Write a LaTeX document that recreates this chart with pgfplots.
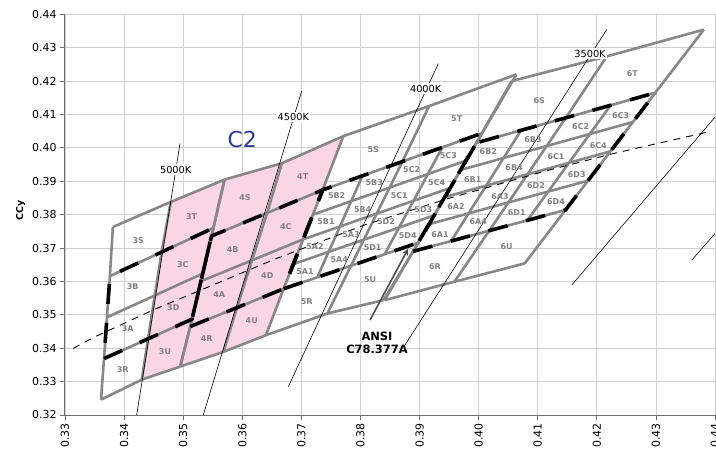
\documentclass[border=0pt]{standalone}
\usepackage{fontspec}
\setmainfont{DejaVu Sans}
\usepackage{pgfplots}
\pgfplotsset{compat=1.18}
\usetikzlibrary{arrows.meta}

\definecolor{bingray}{RGB}{135,135,135}
\definecolor{labgray}{RGB}{128,128,128}
\definecolor{gridc}{RGB}{208,208,208}
\definecolor{axcol}{RGB}{110,110,110}
\definecolor{pinkc}{RGB}{249,213,229}
\definecolor{c2blue}{RGB}{42,58,152}

\pgfplotsset{
  bin/.style={color=bingray, line width=2.6bp, line join=round, mark=none},
  ansi/.style={color=black, line width=3.6bp, dash pattern=on 20bp off 19bp, mark=none},
  iso/.style={color=black, line width=0.6bp, mark=none},
}
\tikzset{
  binlab/.style={font=\bfseries\fontsize{8}{9}\selectfont, text=labgray, inner sep=0pt},
  cct/.style={font=\fontsize{9.8}{10}\selectfont, fill=white, inner sep=1.5bp},
}

\begin{document}
\begin{tikzpicture}
\begin{axis}[name=ax,
  scale only axis, width=650bp, height=400.7bp,
  xmin=0.33, xmax=0.44, ymin=0.32, ymax=0.44,
  xtick={0.33,0.34,0.35,0.36,0.37,0.38,0.39,0.40,0.41,0.42,0.43,0.44},
  ytick={0.32,0.33,0.34,0.35,0.36,0.37,0.38,0.39,0.40,0.41,0.42,0.43,0.44},
  grid=major, grid style={gridc, line width=0.8bp},
  axis lines=left, axis line style={-, axcol, line width=1bp},
  tick align=outside, major tick length=5bp, tick style={axcol, line width=0.8bp},
  /pgf/number format/assume math mode=true,
  /pgf/number format/fixed, /pgf/number format/fixed zerofill,
  /pgf/number format/precision=2,
  tick label style={font=\fontsize{11}{13}\selectfont},
  xticklabel style={rotate=90, anchor=east},
  ylabel={\textbf{CCy}}, ylabel style={font=\fontsize{9.5}{10}\selectfont, xshift=4bp},
]

% pink area: 3T 3C 3D 3U and the 4500K column
\addplot[fill=pinkc, draw=none] coordinates {
  (0.3479,0.3838) (0.3570,0.3905) (0.3667,0.3954) (0.3771,0.4035)
  (0.3736,0.3874) (0.3670,0.3578) (0.3640,0.3439)
  (0.3568,0.3389) (0.3495,0.3345) (0.3430,0.3306)
  (0.34405,0.3428) (0.34635,0.3688)};

% 5000K column
\addplot[bin] coordinates {(0.3361,0.3246) (0.3366,0.3369) (0.3376,0.3616) (0.3381,0.3763)};
\addplot[bin] coordinates {(0.3430,0.3306) (0.34405,0.3428) (0.34635,0.3688) (0.3479,0.3838)};
\addplot[bin] coordinates {(0.3495,0.3345) (0.3515,0.3487) (0.3551,0.3760) (0.3570,0.3905)};
\addplot[bin] coordinates {(0.3361,0.3246) (0.3430,0.3306) (0.3495,0.3345)};
\addplot[bin] coordinates {(0.3366,0.3369) (0.34405,0.3428) (0.3515,0.3487)};
\addplot[bin] coordinates {(0.3371,0.34925) (0.3452,0.3558) (0.3533,0.36235)};
\addplot[bin] coordinates {(0.3376,0.3616) (0.34635,0.3688) (0.3551,0.3760)};
\addplot[bin] coordinates {(0.3381,0.3763) (0.3479,0.3838) (0.3570,0.3905)};

% 4500K column
\addplot[bin] coordinates {(0.3495,0.3345) (0.3512,0.3465) (0.3548,0.3736) (0.3570,0.3905)};
\addplot[bin] coordinates {(0.3568,0.3389) (0.3591,0.35215) (0.3642,0.3805) (0.3667,0.3954)};
\addplot[bin] coordinates {(0.3640,0.3439) (0.3670,0.3578) (0.3736,0.3874) (0.3771,0.4035)};
\addplot[bin] coordinates {(0.3495,0.3345) (0.3568,0.3389) (0.3640,0.3439)};
\addplot[bin] coordinates {(0.3512,0.3465) (0.3591,0.35215) (0.3670,0.3578)};
\addplot[bin] coordinates {(0.3530,0.36005) (0.36165,0.36633) (0.3703,0.3726)};
\addplot[bin] coordinates {(0.3548,0.3736) (0.3642,0.3805) (0.3736,0.3874)};
\addplot[bin] coordinates {(0.3570,0.3905) (0.3667,0.3954) (0.3771,0.4035)};

% 4000K column
\addplot[bin] coordinates {(0.3727,0.36125) (0.37461,0.36885) (0.37653,0.37645) (0.37844,0.38405) (0.38035,0.39165)};
\addplot[bin] coordinates {(0.3744,0.3504) (0.3784,0.3647) (0.38058,0.3725) (0.38275,0.3803) (0.38493,0.3881) (0.3871,0.3959) (0.3916,0.4125)};
\addplot[bin] coordinates {(0.3841,0.36815) (0.38654,0.37615) (0.38898,0.38415) (0.39141,0.39215) (0.39385,0.40015)};
\addplot[bin] coordinates {(0.3839,0.3544) (0.3898,0.3716) (0.3925,0.3798) (0.3952,0.3880) (0.3979,0.3962) (0.4006,0.4044) (0.4064,0.4220)};
\addplot[bin] coordinates {(0.3640,0.3439) (0.3744,0.3504) (0.3839,0.3544)};
\addplot[bin] coordinates {(0.3670,0.3578) (0.3727,0.36125) (0.3784,0.3647) (0.3841,0.36815) (0.3898,0.3716)};
\addplot[bin] coordinates {(0.36865,0.3652) (0.37461,0.36885) (0.38058,0.3725) (0.38654,0.37615) (0.3925,0.3798)};
\addplot[bin] coordinates {(0.3703,0.3726) (0.37653,0.37645) (0.38275,0.3803) (0.38898,0.38415) (0.3952,0.3880)};
\addplot[bin] coordinates {(0.37195,0.3800) (0.37844,0.38405) (0.38493,0.3881) (0.39141,0.39215) (0.3979,0.3962)};
\addplot[bin] coordinates {(0.3736,0.3874) (0.38035,0.39165) (0.3871,0.3959) (0.39385,0.40015) (0.4006,0.4044)};
\addplot[bin] coordinates {(0.3771,0.4035) (0.3916,0.4125) (0.4064,0.4220)};

% 3500K column
\addplot[bin] coordinates {(0.3841,0.3544) (0.3889,0.3690) (0.39158,0.37713) (0.39425,0.38525) (0.39693,0.39338) (0.3996,0.4015) (0.4056,0.4200)};
\addplot[bin] coordinates {(0.39535,0.3721) (0.39831,0.38039) (0.40127,0.38868) (0.40422,0.39696) (0.40718,0.40525)};
\addplot[bin] coordinates {(0.3959,0.3599) (0.4018,0.3752) (0.40504,0.38365) (0.40828,0.3921) (0.41151,0.40055) (0.41475,0.4090) (0.4217,0.4274)};
\addplot[bin] coordinates {(0.40825,0.3783) (0.41177,0.38691) (0.41529,0.39553) (0.41881,0.40414) (0.42233,0.41275)};
\addplot[bin] coordinates {(0.4078,0.3654) (0.4147,0.3814) (0.4185,0.39018) (0.4223,0.39895) (0.4261,0.40773) (0.4299,0.4165) (0.4381,0.4354)};
\addplot[bin] coordinates {(0.3841,0.3544) (0.3959,0.3599) (0.4078,0.3654)};
\addplot[bin] coordinates {(0.3889,0.3690) (0.39535,0.3721) (0.4018,0.3752) (0.40825,0.3783) (0.4147,0.3814)};
\addplot[bin] coordinates {(0.39158,0.37713) (0.39831,0.38039) (0.40504,0.38365) (0.41177,0.38691) (0.4185,0.39018)};
\addplot[bin] coordinates {(0.39425,0.38525) (0.40127,0.38868) (0.40828,0.3921) (0.41529,0.39553) (0.4223,0.39895)};
\addplot[bin] coordinates {(0.39693,0.39338) (0.40422,0.39696) (0.41151,0.40055) (0.41881,0.40414) (0.4261,0.40773)};
\addplot[bin] coordinates {(0.3996,0.4015) (0.40718,0.40525) (0.41475,0.4090) (0.42233,0.41275) (0.4299,0.4165)};
\addplot[bin] coordinates {(0.4056,0.4200) (0.4217,0.4274) (0.4381,0.4354)};

% ANSI C78.377A quadrangles
\addplot[ansi] coordinates {(0.3366,0.3369) (0.3515,0.3487) (0.3551,0.3760) (0.3376,0.3616) (0.3366,0.3369)};
\addplot[ansi] coordinates {(0.3512,0.3465) (0.3670,0.3578) (0.3736,0.3874) (0.3548,0.3736) (0.3512,0.3465)};
\addplot[ansi] coordinates {(0.3670,0.3578) (0.3898,0.3716) (0.4006,0.4044) (0.3736,0.3874) (0.3670,0.3578)};
\addplot[ansi] coordinates {(0.3889,0.3690) (0.4147,0.3814) (0.4299,0.4165) (0.3996,0.4015) (0.3889,0.3690)};

% isotherms
\addplot[iso] coordinates {(0.34213,0.3200) (0.34946,0.4013)};
\addplot[iso] coordinates {(0.35340,0.3200) (0.37006,0.41704)};
\addplot[iso] coordinates {(0.36779,0.32847) (0.39318,0.42524)};
\addplot[iso] coordinates {(0.38754,0.34095) (0.42167,0.43541)};
\addplot[iso] coordinates {(0.41575,0.35890) (0.4400,0.4092)};
\addplot[iso] coordinates {(0.43606,0.36638) (0.4400,0.37431)};

% black body locus
\addplot[color=black, line width=0.9bp, dash pattern=on 7bp off 6bp, mark=none] coordinates {
  (0.33140,0.33996) (0.33508,0.34343) (0.34510,0.35160) (0.36583,0.36689)
  (0.38050,0.37680) (0.39487,0.38484) (0.41152,0.39316) (0.42279,0.39831) (0.43887,0.40477)};

% arrow to ANSI quadrangle
\draw[-{Stealth[length=7bp,width=6bp,open]}, color=black!70, line width=1.6bp]
  (axis cs:0.38162,0.34843) -- (axis cs:0.38810,0.36988);

% bin names
\node[binlab] at (axis cs:0.34240,0.37236) {3S};
\node[binlab] at (axis cs:0.35144,0.37955) {3T};
\node[binlab] at (axis cs:0.34146,0.35860) {3B};
\node[binlab] at (axis cs:0.34992,0.36518) {3C};
\node[binlab] at (axis cs:0.34061,0.34573) {3A};
\node[binlab] at (axis cs:0.34833,0.35223) {3D};
\node[binlab] at (axis cs:0.33976,0.33347) {3R};
\node[binlab] at (axis cs:0.34692,0.33894) {3U};
\node[binlab] at (axis cs:0.36046,0.38514) {4S};
\node[binlab] at (axis cs:0.37023,0.39151) {4T};
\node[binlab] at (axis cs:0.35838,0.36967) {4B};
\node[binlab] at (axis cs:0.36735,0.37634) {4C};
\node[binlab] at (axis cs:0.35611,0.35591) {4A};
\node[binlab] at (axis cs:0.36424,0.36189) {4D};
\node[binlab] at (axis cs:0.35398,0.34274) {4R};
\node[binlab] at (axis cs:0.36160,0.34822) {4U};
\node[binlab] at (axis cs:0.38217,0.39959) {5S};
\node[binlab] at (axis cs:0.39629,0.40878) {5T};
\node[binlab] at (axis cs:0.37090,0.35390) {5R};
\node[binlab] at (axis cs:0.38162,0.36040) {5U};
\node[binlab] at (axis cs:0.37598,0.38562) {5B2};
\node[binlab] at (axis cs:0.38234,0.38951) {5B3};
\node[binlab] at (axis cs:0.38867,0.39361) {5C2};
\node[binlab] at (axis cs:0.39487,0.39780) {5C3};
\node[binlab] at (axis cs:0.37417,0.37784) {5B1};
\node[binlab] at (axis cs:0.38038,0.38164) {5B4};
\node[binlab] at (axis cs:0.38657,0.38562) {5C1};
\node[binlab] at (axis cs:0.39290,0.38951) {5C4};
\node[binlab] at (axis cs:0.37840,0.37407) {5A3};
\node[binlab] at (axis cs:0.38432,0.37805) {5D2};
\node[binlab] at (axis cs:0.39064,0.38155) {5D3};
\node[binlab] at (axis cs:0.37231,0.37057) {5A2};
\node[binlab] at (axis cs:0.38207,0.37006) {5D1};
\node[binlab] at (axis cs:0.38800,0.37365) {5D4};
\node[binlab] at (axis cs:0.37062,0.36288) {5A1};
\node[binlab] at (axis cs:0.37642,0.36659) {5A4};
\node[binlab] at (axis cs:0.41027,0.41405) {6S};
\node[binlab] at (axis cs:0.42601,0.42224) {6T};
\node[binlab] at (axis cs:0.39262,0.36437) {6R};
\node[binlab] at (axis cs:0.40475,0.37036) {6U};
\node[binlab] at (axis cs:0.40164,0.39899) {6B2};
\node[binlab] at (axis cs:0.40920,0.40259) {6B3};
\node[binlab] at (axis cs:0.39900,0.39053) {6B1};
\node[binlab] at (axis cs:0.40599,0.39400) {6B4};
\node[binlab] at (axis cs:0.39617,0.38233) {6A2};
\node[binlab] at (axis cs:0.40362,0.38553) {6A3};
\node[binlab] at (axis cs:0.39346,0.37416) {6A1};
\node[binlab] at (axis cs:0.39994,0.37796) {6A4};
\node[binlab] at (axis cs:0.41727,0.40627) {6C2};
\node[binlab] at (axis cs:0.42404,0.40977) {6C3};
\node[binlab] at (axis cs:0.41309,0.39750) {6C1};
\node[binlab] at (axis cs:0.42025,0.40079) {6C4};
\node[binlab] at (axis cs:0.40971,0.38882) {6D2};
\node[binlab] at (axis cs:0.41660,0.39211) {6D3};
\node[binlab] at (axis cs:0.40644,0.38059) {6D1};
\node[binlab] at (axis cs:0.41309,0.38382) {6D4};

% CCT names
\node[cct] at (axis cs:0.34873,0.39352) {5000K};
\node[cct] at (axis cs:0.36864,0.40926) {4500K};
\node[cct] at (axis cs:0.39104,0.41776) {4000K};
\node[cct] at (axis cs:0.41885,0.42823) {3500K};

\node[text=c2blue, font=\fontsize{22}{23}\selectfont, inner sep=0pt] at (axis cs:0.3600,0.4025) {C2};
\node[font=\bfseries\fontsize{11.5}{13.5}\selectfont, align=center, inner sep=0pt] at (axis cs:0.3828,0.34154) {ANSI\\C78.377A};

\end{axis}
\pgfresetboundingbox
\path ([xshift=-65bp,yshift=-59bp]ax.south west) rectangle ([xshift=1bp,yshift=14.3bp]ax.north east);
\end{tikzpicture}
\end{document}
